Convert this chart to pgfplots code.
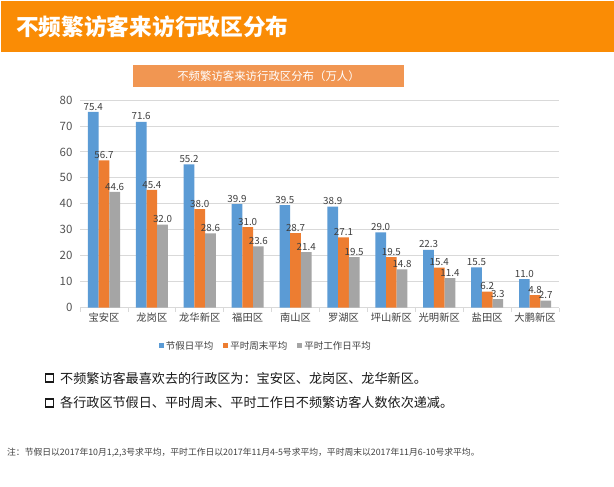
\documentclass[border=0pt]{standalone}
\usepackage{fontspec}
\setmainfont{Noto Sans CJK SC}
\usepackage{pgfplots}
\pgfplotsset{compat=1.18}
\definecolor{cBlue}{RGB}{91,155,213}
\definecolor{cOrange}{RGB}{237,125,49}
\definecolor{cGray}{RGB}{165,165,165}
\definecolor{banner}{RGB}{250,140,5}
\definecolor{tbox}{RGB}{241,150,82}
\definecolor{txt}{RGB}{64,64,64}
\definecolor{gridc}{RGB}{217,217,217}
\begin{document}
\begin{tikzpicture}[x=1pt,y=1pt]
\useasboundingbox (0pt,0pt) rectangle (614pt,487pt);
\fill[white] (0pt,0pt) rectangle (614pt,487pt);
\fill[banner] (1pt,435pt) rectangle (614pt,486pt);
\node[anchor=west, text=white, font=\fontsize{22.7}{26}\selectfont\bfseries, inner sep=0] at (16pt,460pt) {不频繁访客来访行政区分布};
\fill[tbox] (133pt,400pt) rectangle (404pt,422pt);
\node[text=white, font=\fontsize{11.4}{13}\selectfont, inner sep=0] at (268.5pt,411pt) {不频繁访客来访行政区分布（万人）};
\begin{axis}[
  at={(80pt,179.3pt)}, anchor=south west, scale only axis,
  width=479pt, height=207.7pt,
  ymin=0, ymax=80, ytick={0,10,...,80},
  xmin=-0.5, xmax=9.5,
  xtick={0,...,9},
  xticklabels={宝安区,龙岗区,龙华新区,福田区,南山区,罗湖区,坪山新区,光明新区,盐田区,大鹏新区},
  minor xtick={-0.5,0.5,...,9.5},
  major tick length=0pt, minor tick length=4pt, tick align=outside,
  ybar=0pt, bar width=10.7pt,
  axis x line*=bottom, axis y line*=left,
  x axis line style={draw=gridc, line width=1pt},
  y axis line style={draw=none},
  every tick/.style={draw=gridc, line width=0.8pt},
  ymajorgrids, grid style={draw=gridc, line width=0.9pt},
  ticklabel style={text=txt},
  yticklabel style={font=\fontsize{11.5}{13}\selectfont, text=txt!90, xshift=-4pt},
  xticklabel style={font=\fontsize{10.3}{12}\selectfont, yshift=-2pt},
  /pgf/number format/assume math mode=true,
  clip=false,
  nodes near coords,
  nodes near coords style={font=\fontsize{9.8}{11}\selectfont, text=txt, inner sep=1.5pt,
    /pgf/number format/.cd, fixed, fixed zerofill, precision=1},
  legend style={at={(axis description cs:0.388,-0.184)}, anchor=center, draw=none,
    font=\fontsize{9.5}{11}\selectfont, text=txt,
    /tikz/every even column/.append style={column sep=8pt}},
  legend columns=3,
  legend image code/.code={\fill[#1] (0pt,-2.5pt) rectangle (5pt,2.5pt);},
]
\addplot[fill=cBlue, draw=none] coordinates {(0,75.4) (1,71.6) (2,55.2) (3,39.9) (4,39.5) (5,38.9) (6,29.0) (7,22.3) (8,15.5) (9,11.0)};
\addplot[fill=cOrange, draw=none] coordinates {(0,56.7) (1,45.4) (2,38.0) (3,31.0) (4,28.7) (5,27.1) (6,19.5) (7,15.4) (8,6.2) (9,4.8)};
\addplot[fill=cGray, draw=none] coordinates {(0,44.6) (1,32.0) (2,28.6) (3,23.6) (4,21.4) (5,19.5) (6,14.8) (7,11.4) (8,3.3) (9,2.7)};
\legend{节假日平均,平时周末平均,平时工作日平均}
\end{axis}
\draw[line width=1.9pt, black!90] (45.5pt,105pt) rectangle (53.5pt,113pt);
\node[anchor=west, inner sep=0, font=\fontsize{13.1}{15}\selectfont, text=black!90] at (60pt,109pt) {不频繁访客最喜欢去的行政区为：宝安区、龙岗区、龙华新区。};
\draw[line width=1.9pt, black!90] (45.5pt,80pt) rectangle (53.5pt,88pt);
\node[anchor=west, inner sep=0, font=\fontsize{13.1}{15}\selectfont, text=black!90] at (60pt,84pt) {各行政区节假日、平时周末、平时工作日不频繁访客人数依次递减。};
\node[anchor=west, inner sep=0, font=\fontsize{8.8}{10}\selectfont, text=txt] at (7pt,34pt) {注：节假日以2017年10月1,2,3号求平均，平时工作日以2017年11月4-5号求平均，平时周末以2017年11月6-10号求平均。};
\end{tikzpicture}
\end{document}
